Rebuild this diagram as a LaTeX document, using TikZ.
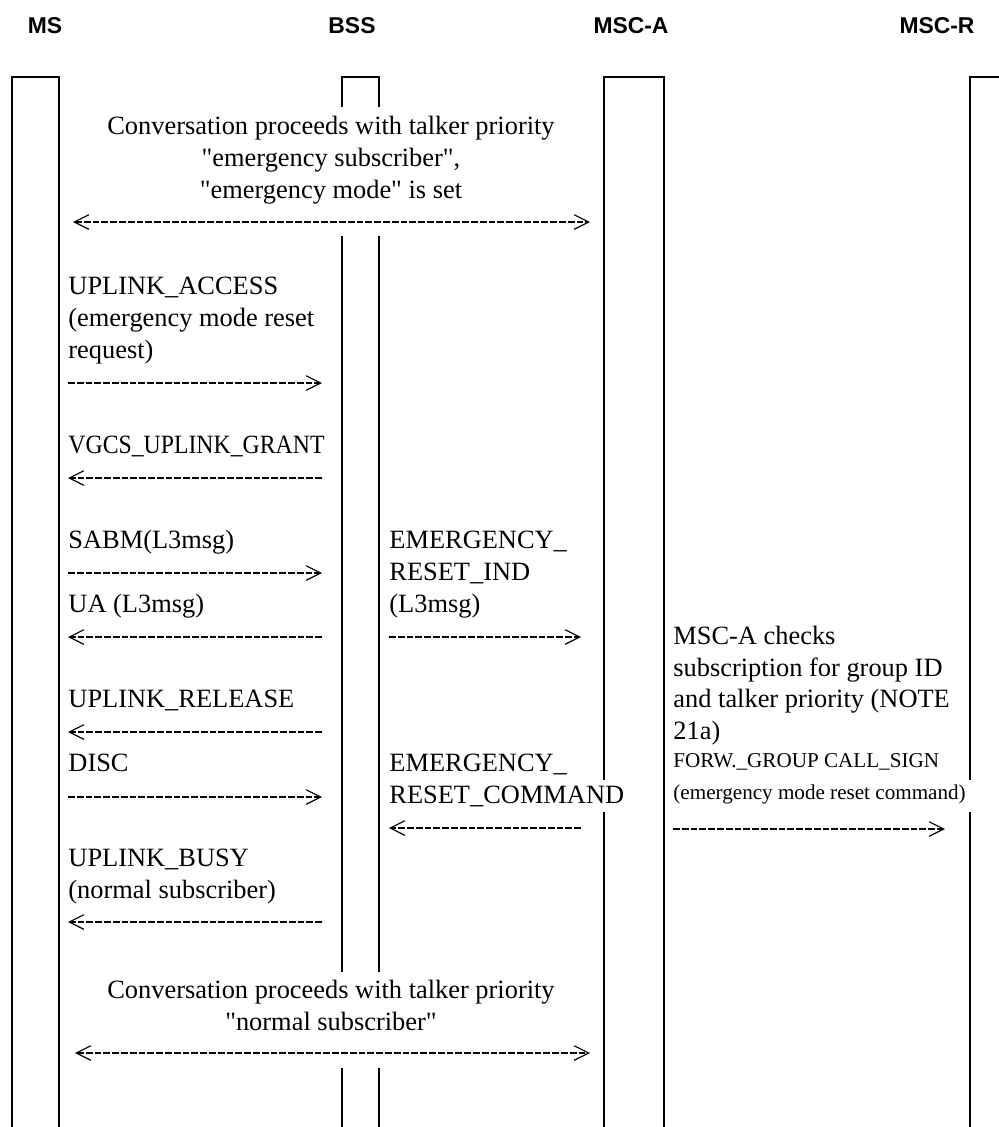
\documentclass[tikz,border=0pt]{standalone}
\usepackage{graphicx}
\usepackage{fontspec}
\setmainfont{Liberation Serif}[Ligatures=TeXOff]
\newfontfamily\headfont{Liberation Sans}
\usetikzlibrary{arrows.meta}

\begin{document}
\begin{tikzpicture}[x=0.4545pt,y=-0.4545pt,
  >={Straight Barb[length=6.6pt,width=6.6pt]},
  lifeline/.style={line width=0.9pt},
  head/.style={anchor=base,inner sep=0pt,font=\headfont\bfseries\fontsize{10.4}{12}\selectfont},
  txt/.style={anchor=base west,inner sep=0pt,font=\fontsize{12}{14}\selectfont},
  small/.style={txt,font=\fontsize{9.6}{11}\selectfont},
  mid/.style={txt,anchor=base},
  msg/.style={->,line width=0.55pt,dash pattern=on 3.1pt off 0.9pt}]
\useasboundingbox (0,0) rectangle (999,1127);

% entities
\node[head] (ms)   at (45,33)  {MS};
\node[head] (bss)  at (352,33) {BSS};
\node[head] (msca) at (631,33) {MSC-A};
\node[head] (mscr) at (937,33) {MSC-R};

% lifelines, broken where text runs across them
\draw[lifeline] (12,1127) -- (12,77) -- (59,77) -- (59,1127);
\draw[lifeline] (342,107) -- (342,77) -- (379,77) -- (379,107);
\draw[lifeline] (342,236) -- (342,972) (379,236) -- (379,972);
\draw[lifeline] (342,1068) -- (342,1127) (379,1068) -- (379,1127);
\draw[lifeline] (604,1127) -- (604,812);
\draw[lifeline] (604,780) -- (604,77) -- (664,77) -- (664,1127);
\draw[lifeline] (970,1127) -- (970,812);
\draw[lifeline] (970,780) -- (970,77) -- (1010,77);

% conversation with emergency priority
\node[mid] (emc1) at (331,134) {Conversation proceeds with talker priority};
\node[mid] (emc2) at (331,166) {"emergency subscriber",};
\node[mid] (emc3) at (331,198) {"emergency mode" is set};

% MS - BSS
\foreach \t/\y [count=\i] in {{UPLINK\_ACCESS}/294, {(emergency mode reset}/326,
    {request)}/358, {SABM(L3msg)}/548, {UA (L3msg)}/612, {UPLINK\_RELEASE}/707,
    {DISC}/771, {UPLINK\_BUSY}/866, {(normal subscriber)}/898}
  \node[txt] (msbss\i) at (68,\y) {\t};
\node[txt] (grant) at (68,453) {\scalebox{0.9}[1]{VGCS\_UPLINK\_GRANT}};

% BSS - MSC-A
\foreach \t/\y [count=\i] in {{EMERGENCY\_}/548, {RESET\_IND}/580, {(L3msg)}/612,
    {EMERGENCY\_}/771, {RESET\_COMMAND}/803}
  \node[txt] (bssa\i) at (389,\y) {\t};

% MSC-A - MSC-R
\foreach \t/\y [count=\i] in {{MSC-A checks}/644, {subscription for group ID}/676,
    {and talker priority (NOTE}/707, {21a)}/739}
  \node[txt] (chk\i) at (673,\y) {\t};
\node[small] (sign1) at (673,767) {FORW.\_GROUP CALL\_SIGN};
\node[small] (sign2) at (673,799) {(emergency mode reset command)};

% conversation with normal priority
\node[mid] (nmc1) at (331,998) {Conversation proceeds with talker priority};
\node[mid] (nmc2) at (331,1030) {"normal subscriber"};

% message ends
\foreach \n/\y in {acc/383, gnt/478, sabm/573, ua/637, rel/732, disc/797, busy/922} {
  \coordinate (\n-l) at (68,\y);
  \coordinate (\n-r) at (322,\y);
}
\foreach \n/\y in {ind/637, cmd/828} {
  \coordinate (\n-l) at (389,\y);
  \coordinate (\n-r) at (581,\y);
}
\coordinate (sign-l) at (673,829);
\coordinate (sign-r) at (945,829);
\coordinate (emc-l) at (73,222);
\coordinate (emc-r) at (590,222);
\coordinate (nmc-l) at (75,1053);
\coordinate (nmc-r) at (590,1053);

% messages
\draw[msg,<->] (emc-l) -- (emc-r);
\draw[msg] (acc-l) -- (acc-r);
\draw[msg] (gnt-r) -- (gnt-l);
\draw[msg] (sabm-l) -- (sabm-r);
\draw[msg] (ua-r) -- (ua-l);
\draw[msg] (rel-r) -- (rel-l);
\draw[msg] (disc-l) -- (disc-r);
\draw[msg] (busy-r) -- (busy-l);
\draw[msg] (ind-l) -- (ind-r);
\draw[msg] (cmd-r) -- (cmd-l);
\draw[msg] (sign-l) -- (sign-r);
\draw[msg,<->] (nmc-l) -- (nmc-r);
\end{tikzpicture}
\end{document}
